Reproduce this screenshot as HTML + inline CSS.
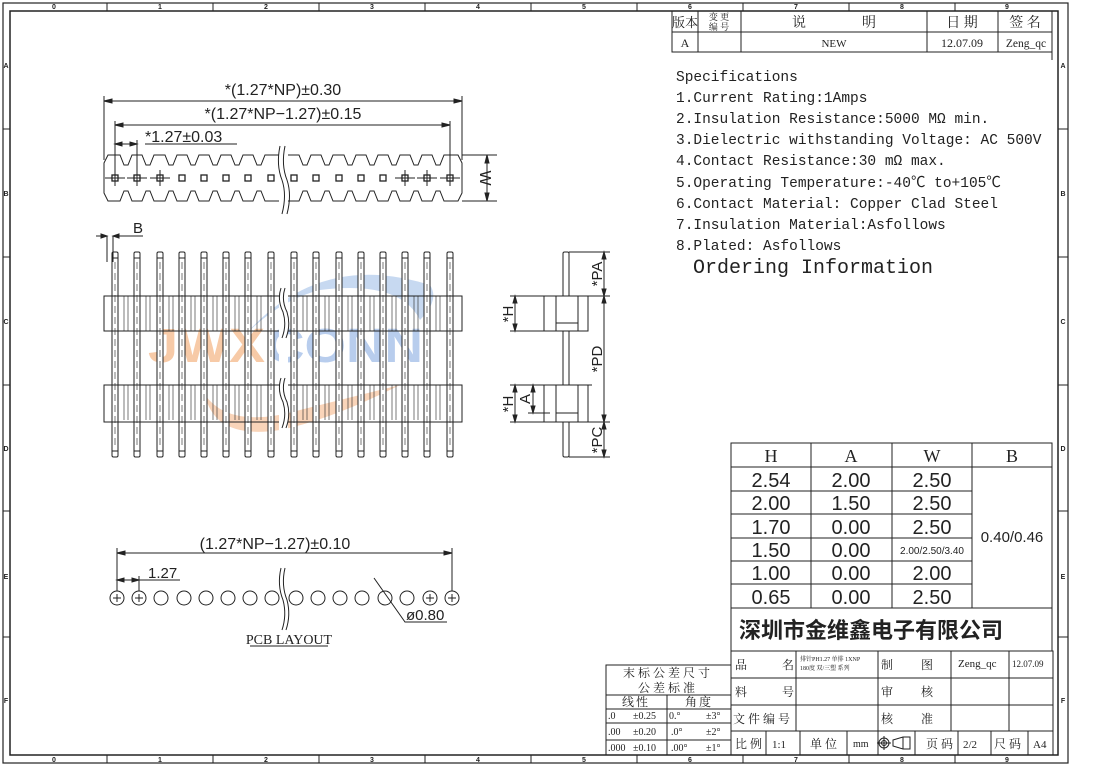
<!DOCTYPE html>
<html><head><meta charset="utf-8"><style>
html,body{margin:0;padding:0;background:#fff;width:1100px;height:766px;overflow:hidden}
svg{display:block}
.s{font-family:"Liberation Serif","Noto Serif CJK SC",serif}
.a{font-family:"Liberation Sans","Noto Sans CJK SC",sans-serif}
.m{font-family:"Liberation Mono","Noto Sans CJK SC",monospace}
</style></head><body>
<svg width="1100" height="766" viewBox="0 0 1100 766" xmlns="http://www.w3.org/2000/svg" fill="none" stroke="#222" stroke-width="1">
<defs>
<g id="pin">
<rect x="-3" y="252" width="6" height="205" rx="1.5" fill="#fff"/>
<line x1="-3" y1="258" x2="3" y2="258"/><line x1="-3" y1="451" x2="3" y2="451"/>
<line x1="0" y1="262" x2="0" y2="448" stroke-dasharray="7,4" stroke-width="0.6"/>
</g>
<g id="sq"><rect x="-3" y="175" width="6" height="6" stroke-width="1.3"/></g>
<g id="ch"><rect x="-3" y="175" width="6" height="6" stroke-width="1.3"/><line x1="-10" y1="178" x2="10" y2="178"/><line x1="0" y1="170" x2="0" y2="186"/></g>
<g id="c"><circle cx="0" cy="598" r="7"/></g>
<g id="cp"><circle cx="0" cy="598" r="7"/><line x1="-4" y1="598" x2="4" y2="598"/><line x1="0" y1="594" x2="0" y2="602"/></g>
</defs>

<rect x="3" y="3" width="1065" height="760" stroke-width="1.2"/>
<rect x="10" y="11" width="1048" height="744" stroke-width="1.5"/>
<g stroke-width="1">
<line x1="107" y1="3" x2="107" y2="11"/><line x1="213" y1="3" x2="213" y2="11"/><line x1="319" y1="3" x2="319" y2="11"/><line x1="425" y1="3" x2="425" y2="11"/><line x1="531" y1="3" x2="531" y2="11"/><line x1="637" y1="3" x2="637" y2="11"/><line x1="743" y1="3" x2="743" y2="11"/><line x1="849" y1="3" x2="849" y2="11"/><line x1="955" y1="3" x2="955" y2="11"/>
<line x1="107" y1="755" x2="107" y2="763"/><line x1="213" y1="755" x2="213" y2="763"/><line x1="319" y1="755" x2="319" y2="763"/><line x1="425" y1="755" x2="425" y2="763"/><line x1="531" y1="755" x2="531" y2="763"/><line x1="637" y1="755" x2="637" y2="763"/><line x1="743" y1="755" x2="743" y2="763"/><line x1="849" y1="755" x2="849" y2="763"/><line x1="955" y1="755" x2="955" y2="763"/>
<line x1="3" y1="129" x2="10" y2="129"/><line x1="3" y1="257" x2="10" y2="257"/><line x1="3" y1="385" x2="10" y2="385"/><line x1="3" y1="511" x2="10" y2="511"/><line x1="3" y1="637" x2="10" y2="637"/>
<line x1="1058" y1="129" x2="1068" y2="129"/><line x1="1058" y1="257" x2="1068" y2="257"/><line x1="1058" y1="385" x2="1068" y2="385"/><line x1="1058" y1="511" x2="1068" y2="511"/><line x1="1058" y1="637" x2="1068" y2="637"/>
</g>
<g class="a" fill="#222" stroke="none" font-size="7" font-weight="bold" text-anchor="middle">
<text x="54" y="9">0</text><text x="160" y="9">1</text><text x="266" y="9">2</text><text x="372" y="9">3</text><text x="478" y="9">4</text><text x="584" y="9">5</text><text x="690" y="9">6</text><text x="796" y="9">7</text><text x="902" y="9">8</text><text x="1007" y="9">9</text>
<text x="54" y="762">0</text><text x="160" y="762">1</text><text x="266" y="762">2</text><text x="372" y="762">3</text><text x="478" y="762">4</text><text x="584" y="762">5</text><text x="690" y="762">6</text><text x="796" y="762">7</text><text x="902" y="762">8</text><text x="1007" y="762">9</text>
<text x="6" y="68">A</text><text x="6" y="196">B</text><text x="6" y="324">C</text><text x="6" y="451">D</text><text x="6" y="579">E</text><text x="6" y="703">F</text>
<text x="1063" y="68">A</text><text x="1063" y="196">B</text><text x="1063" y="324">C</text><text x="1063" y="451">D</text><text x="1063" y="579">E</text><text x="1063" y="703">F</text>
</g>

<g>
<rect x="672" y="11" width="380" height="41"/>
<line x1="672" y1="32" x2="1052" y2="32"/>
<line x1="698" y1="11" x2="698" y2="52"/><line x1="741" y1="11" x2="741" y2="52"/><line x1="927" y1="11" x2="927" y2="52"/><line x1="998" y1="11" x2="998" y2="52"/>
<line x1="1052" y1="52" x2="1052" y2="60"/>
</g>
<g class="s" fill="#222" stroke="none" text-anchor="middle">
<text x="685" y="27" font-size="13">版本</text>
<text x="719" y="20" font-size="9">变 更</text><text x="719" y="30" font-size="9">编 号</text>
<text x="834" y="27" font-size="14">说　　　　明</text>
<text x="962" y="27" font-size="14">日 期</text>
<text x="1025" y="27" font-size="14">签 名</text>
<text x="685" y="47" font-size="12">A</text>
<text x="834" y="47" font-size="11">NEW</text>
<text x="962" y="47" font-size="12">12.07.09</text>
<text x="1026" y="47" font-size="11.5">Zeng_qc</text>
</g>

<g class="m" fill="#222" stroke="none" font-size="14.5">
<text x="676" y="81">Specifications</text>
<text x="676" y="102">1.Current Rating:1Amps</text>
<text x="676" y="123">2.Insulation Resistance:5000 MΩ min.</text>
<text x="676" y="144">3.Dielectric withstanding Voltage: AC 500V</text>
<text x="676" y="165">4.Contact Resistance:30 mΩ max.</text>
<text x="676" y="187">5.Operating Temperature:-40℃ to+105℃</text>
<text x="676" y="208">6.Contact Material: Copper Clad Steel</text>
<text x="676" y="229">7.Insulation Material:Asfollows</text>
<text x="676" y="250">8.Plated: Asfollows</text>
<text x="693" y="273" font-size="20">Ordering Information</text>
</g>

<g stroke="none" opacity="0.55">
<path d="M245,335 Q320,250 430,285 Q440,300 420,320 Q400,280 320,290 Q280,300 245,335Z" fill="#9bbbe6"/>
<path d="M205,395 Q230,430 300,410 Q360,395 400,385 Q330,420 280,430 Q215,440 205,395Z" fill="#f4b080"/>
<text x="148" y="362" font-family="Liberation Sans,sans-serif" font-weight="bold" font-size="48" fill="#f2a060" textLength="117" lengthAdjust="spacingAndGlyphs">JWX</text>
<text x="266" y="362" font-family="Liberation Sans,sans-serif" font-weight="bold" font-size="48" fill="#7fa6e0" textLength="157" lengthAdjust="spacingAndGlyphs">CONN</text>
</g>

<g>
<line x1="104" y1="96" x2="104" y2="160"/><line x1="462" y1="96" x2="462" y2="160"/>
<line x1="104" y1="101" x2="462" y2="101"/>
<path d="M104,101 l8,-2 v4z M462,101 l-8,-2 v4z" fill="#222"/>
<line x1="115" y1="121" x2="115" y2="178"/><line x1="450" y1="121" x2="450" y2="178"/>
<line x1="115" y1="125" x2="450" y2="125"/>
<path d="M115,125 l8,-2 v4z M450,125 l-8,-2 v4z" fill="#222"/>
<line x1="137" y1="140" x2="137" y2="178"/>
<line x1="115" y1="144" x2="137" y2="144"/>
<path d="M115,144 l7,-2 v4z M137,144 l-7,-2 v4z" fill="#222"/>
<line x1="145" y1="144" x2="237" y2="144"/>
<line x1="462" y1="155" x2="497" y2="155"/><line x1="462" y1="201" x2="497" y2="201"/>
<line x1="487" y1="155" x2="487" y2="201"/>
<path d="M487,155 l-2,8 h4z M487,201 l-2,-8 h4z" fill="#222"/>
</g>
<g class="a" fill="#222" stroke="none" font-size="16">
<text x="283" y="95" text-anchor="middle">*(1.27*NP)±0.30</text>
<text x="283" y="119" text-anchor="middle">*(1.27*NP−1.27)±0.15</text>
<text x="145" y="142">*1.27±0.03</text>
<text x="0" y="0" transform="translate(480,178) rotate(90)" text-anchor="middle">W</text>
</g>
<path d="M104,163 L108,155 L120,155 L124,165 L128,165 L132,155 L142,155 L146,165 L150,165 L154,155 L165,155 L169,165 L173,165 L177,155 L187,155 L191,165 L195,165 L199,155 L209,155 L213,165 L217,165 L221,155 L231,155 L235,165 L239,165 L243,155 L253,155 L257,165 L261,165 L265,155 L299,155 L303,165 L307,165 L311,155 L321,155 L325,165 L329,165 L333,155 L344,155 L348,165 L352,165 L356,155 L366,155 L370,165 L374,165 L378,155 L388,155 L392,165 L396,165 L400,155 L410,155 L414,165 L418,165 L422,155 L432,155 L436,165 L440,165 L444,155 L458,155 L462,163 L462,193 L458,201 L444,201 L440,191 L436,191 L432,201 L422,201 L418,191 L414,191 L410,201 L400,201 L396,191 L392,191 L388,201 L378,201 L374,191 L370,191 L366,201 L356,201 L352,191 L348,191 L344,201 L333,201 L329,191 L325,191 L321,201 L311,201 L307,191 L303,191 L299,201 L265,201 L261,191 L257,191 L253,201 L243,201 L239,191 L235,191 L231,201 L221,201 L217,191 L213,191 L209,201 L199,201 L195,191 L191,191 L187,201 L177,201 L173,191 L169,191 L165,201 L154,201 L150,191 L146,191 L142,201 L132,201 L128,191 L124,191 L120,201 L108,201 L104,193 Z"/>
<g>
<use href="#ch" x="115"/><use href="#ch" x="137"/><use href="#ch" x="160"/><use href="#sq" x="182"/><use href="#sq" x="204"/><use href="#sq" x="226"/><use href="#sq" x="248"/><use href="#sq" x="271"/>
<use href="#sq" x="294"/><use href="#sq" x="316"/><use href="#sq" x="339"/><use href="#sq" x="361"/><use href="#sq" x="383"/><use href="#ch" x="405"/><use href="#ch" x="427"/><use href="#ch" x="450"/>
</g>
<rect x="279" y="146" width="9" height="68" fill="#fff" stroke="none"/>
<path d="M280,146 Q276,165 282,180 Q287,195 282,214 M285,146 Q281,165 287,180 Q292,195 287,214"/>

<g>
<use href="#pin" x="115"/><use href="#pin" x="137"/><use href="#pin" x="160"/><use href="#pin" x="182"/><use href="#pin" x="204"/><use href="#pin" x="226"/><use href="#pin" x="248"/><use href="#pin" x="271"/>
<use href="#pin" x="294"/><use href="#pin" x="316"/><use href="#pin" x="339"/><use href="#pin" x="361"/><use href="#pin" x="383"/><use href="#pin" x="405"/><use href="#pin" x="427"/><use href="#pin" x="450"/>
</g>
<g>
<rect x="104" y="296" width="358" height="35"/>
<rect x="104" y="385" width="358" height="37"/>
<g id="div" stroke-width="0.6">
<path d="M124,296v35M128,296v35M146,296v35M150,296v35M169,296v35M173,296v35M191,296v35M195,296v35M213,296v35M217,296v35M235,296v35M239,296v35M257,296v35M261,296v35M303,296v35M307,296v35M325,296v35M329,296v35M348,296v35M352,296v35M370,296v35M374,296v35M392,296v35M396,296v35M414,296v35M418,296v35M436,296v35M440,296v35"/>
</g>
<use href="#div" y="89"/>
</g>
<rect x="279" y="290" width="9" height="140" fill="#fff" stroke="none"/>
<path d="M281,288 Q277,300 283,312 Q287,325 282,338 M285,288 Q281,300 287,312 Q291,325 286,338 M281,378 Q277,390 283,402 Q287,415 282,428 M285,378 Q281,390 287,402 Q291,415 286,428"/>
<line x1="107" y1="236" x2="107" y2="262"/><line x1="113" y1="236" x2="113" y2="262"/>
<line x1="96" y1="236" x2="107" y2="236"/><line x1="113" y1="236" x2="143" y2="236"/>
<path d="M107,236 l-6,-2 v4z M113,236 l6,-2 v4z" fill="#222"/>
<text x="133" y="233" class="a" font-size="15" fill="#222" stroke="none">B</text>

<g>
<rect x="563" y="252" width="6" height="205" rx="1.5" fill="#fff"/>
<rect x="544" y="296" width="44" height="35" fill="#fff"/>
<path d="M556,296v35M578,296v35M556,323h22"/>
<rect x="544" y="385" width="44" height="37" fill="#fff"/>
<path d="M556,385v37M578,385v37M556,413h22"/>
<path d="M569,252h41M588,296h22M588,385h4M588,422h22M569,457h41"/>
<line x1="604" y1="252" x2="604" y2="457"/>
<path d="M604,252l-2,7h4zM604,296l-2,-7h4zM604,296l-2,7h4zM604,422l-2,-7h4zM604,422l-2,7h4zM604,457l-2,-7h4z" fill="#222"/>
<path d="M510,296h34M510,331h34M510,385h34M510,422h34M528,413h22"/>
<line x1="515" y1="296" x2="515" y2="331"/><line x1="515" y1="385" x2="515" y2="422"/>
<line x1="533" y1="385" x2="533" y2="413"/>
<path d="M515,296l-2,7h4zM515,331l-2,-7h4zM515,385l-2,7h4zM515,422l-2,-7h4zM533,385l-2,7h4zM533,413l-2,-7h4z" fill="#222"/>
</g>
<g class="a" fill="#222" stroke="none" font-size="15" text-anchor="middle">
<text transform="translate(602,274) rotate(-90)">*PA</text>
<text transform="translate(602,359) rotate(-90)">*PD</text>
<text transform="translate(602,440) rotate(-90)">*PC</text>
<text transform="translate(513,314) rotate(-90)">*H</text>
<text transform="translate(513,404) rotate(-90)">*H</text>
<text transform="translate(530,399) rotate(-90)">A</text>
</g>

<g>
<use href="#cp" x="117"/><use href="#cp" x="139"/><use href="#c" x="161"/><use href="#c" x="184"/><use href="#c" x="206"/><use href="#c" x="228"/><use href="#c" x="250"/><use href="#c" x="272"/>
<use href="#c" x="296"/><use href="#c" x="318"/><use href="#c" x="340"/><use href="#c" x="362"/><use href="#c" x="385"/><use href="#c" x="407"/><use href="#cp" x="430"/><use href="#cp" x="452"/>
<path d="M281,568 Q277,585 283,600 Q287,615 282,630 M285,568 Q281,585 287,600 Q291,615 286,630"/>
<line x1="117" y1="548" x2="117" y2="591"/><line x1="452" y1="548" x2="452" y2="591"/>
<line x1="117" y1="553" x2="452" y2="553"/>
<path d="M117,553l8,-2v4zM452,553l-8,-2v4z" fill="#222"/>
<line x1="139" y1="576" x2="139" y2="591"/>
<line x1="117" y1="580" x2="139" y2="580"/><line x1="139" y1="580" x2="180" y2="580"/>
<path d="M117,580l7,-2v4zM139,580l-7,-2v4z" fill="#222"/>
<path d="M374,578 L405,622 H447"/>
<line x1="250" y1="646" x2="328" y2="646"/>
</g>
<g fill="#222" stroke="none">
<text x="275" y="549" class="a" font-size="16" text-anchor="middle">(1.27*NP−1.27)±0.10</text>
<text x="148" y="578" class="a" font-size="15">1.27</text>
<text x="406" y="620" class="a" font-size="15">ø0.80</text>
<text x="289" y="644" class="s" font-size="14" text-anchor="middle">PCB LAYOUT</text>
</g>

<g>
<rect x="731" y="443" width="321" height="208"/>
<path d="M731,467H1052M731,491H972M731,514H972M731,538H972M731,561H972M731,584H972M731,608H1052"/>
<path d="M811,443V608M892,443V608M972,443V608"/>
</g>
<g fill="#222" stroke="none" text-anchor="middle">
<g class="s" font-size="18"><text x="771" y="462">H</text><text x="851" y="462">A</text><text x="932" y="462">W</text><text x="1012" y="462">B</text></g>
<g class="a" font-size="20">
<text x="771" y="487">2.54</text><text x="851" y="487">2.00</text><text x="932" y="487">2.50</text>
<text x="771" y="510">2.00</text><text x="851" y="510">1.50</text><text x="932" y="510">2.50</text>
<text x="771" y="534">1.70</text><text x="851" y="534">0.00</text><text x="932" y="534">2.50</text>
<text x="771" y="557">1.50</text><text x="851" y="557">0.00</text>
<text x="771" y="580">1.00</text><text x="851" y="580">0.00</text><text x="932" y="580">2.00</text>
<text x="771" y="604">0.65</text><text x="851" y="604">0.00</text><text x="932" y="604">2.50</text>
</g>
<text x="932" y="554" class="a" font-size="10">2.00/2.50/3.40</text>
<text x="1012" y="542" class="a" font-size="15">0.40/0.46</text>
<text x="739" y="638" class="a" font-size="22" font-weight="bold" text-anchor="start">深圳市金维鑫电子有限公司</text>
</g>

<g>
<rect x="731" y="651" width="322" height="104"/>
<path d="M731,678H1053M731,705H1053M731,731H1053"/>
<path d="M796,651V731M878,651V755M951,651V731M1009,651V731"/>
<path d="M766,731V755M800,731V755M847,731V755M915,731V755M958,731V755M991,731V755M1028,731V755"/>
<rect x="606" y="665" width="125" height="90"/>
<path d="M606,695H731M606,709H731M606,723H731M606,740H731M667,695V755"/>
<circle cx="884" cy="743" r="5"/><circle cx="884" cy="743" r="2.5"/><path d="M877,743h14M884,736v14"/>
<path d="M893,740 L903,737 H910 V749 H903 L893,746Z M903,737V749"/>
</g>
<g class="s" fill="#222" stroke="none" font-size="12">
<text x="735" y="669">品</text><text x="782" y="669">名</text>
<text x="735" y="696">料</text><text x="782" y="696">号</text>
<text x="733" y="723">文 件 编 号</text>
<text x="735" y="748">比 例</text>
<text x="772" y="748" font-size="11">1:1</text>
<text x="810" y="748">单 位</text>
<text x="853" y="747" font-size="10">mm</text>
<text x="926" y="748">页 码</text>
<text x="963" y="748" font-size="11">2/2</text>
<text x="994" y="748">尺 码</text>
<text x="1033" y="748" font-size="11">A4</text>
<text x="881" y="669">制</text><text x="921" y="669">图</text>
<text x="881" y="696">审</text><text x="921" y="696">核</text>
<text x="881" y="723">核</text><text x="921" y="723">准</text>
<text x="958" y="667" font-size="11">Zeng_qc</text>
<text x="1012" y="667" font-size="9">12.07.09</text>
<text x="800" y="661" font-size="6">排针PH1.27 单排 1XNP</text>
<text x="800" y="670" font-size="6">180度 双/三塑 系列</text>
<text x="668" y="677" text-anchor="middle" letter-spacing="3">末标公差尺寸</text>
<text x="668" y="692" text-anchor="middle" letter-spacing="3">公差标准</text>
<text x="636" y="706" text-anchor="middle" letter-spacing="2">线性</text>
<text x="699" y="706" text-anchor="middle" letter-spacing="2">角度</text>
<g font-size="10">
<text x="608" y="719">.0</text><text x="633" y="719">±0.25</text><text x="669" y="719">0.°</text><text x="706" y="719">±3°</text>
<text x="608" y="735">.00</text><text x="633" y="735">±0.20</text><text x="671" y="735">.0°</text><text x="706" y="735">±2°</text>
<text x="608" y="751">.000</text><text x="633" y="751">±0.10</text><text x="671" y="751">.00°</text><text x="706" y="751">±1°</text>
</g>
</g>
</svg>
</body></html>
